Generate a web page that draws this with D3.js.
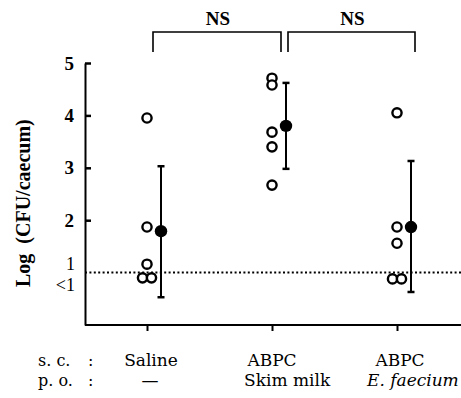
<!DOCTYPE html>
<html><head><meta charset="utf-8">
<script src="https://cdn.jsdelivr.net/npm/d3@7"></script>
<style>
body{margin:0;background:#fff;}
svg{display:block;}
</style></head>
<body>
<svg id="chart" width="461" height="398"></svg>
<script>
// ---- data ----
const groups = ["Saline", "Skim milk", "E. faecium"];
const scLabels = ["Saline", "ABPC", "ABPC"];
const poLabels = ["—", "Skim milk", "E. faecium"];
const salineValues = [3.95, 1.87, 1.16, 0.90, 0.90];
const skimMilkValues = [4.71, 4.58, 3.68, 3.40, 2.67];
const faeciumValues = [4.05, 1.87, 1.56, 0.88, 0.88];
const means = [1.79, 3.80, 1.87];
const sdUpper = [3.03, 4.62, 3.13];
const sdLower = [0.53, 2.98, 0.63];
const yTicks = [2, 3, 4, 5];
const detectionLimit = 1;
const comparisons = [["Saline", "Skim milk", "NS"], ["Skim milk", "E. faecium", "NS"]];

const allValues = [salineValues, skimMilkValues, faeciumValues];

const svg = d3.select("#chart");
const serif = "Liberation Serif, Times New Roman, serif";

const y = d3.scaleLinear().domain([0, 5]).range([325, 63]);
const x = d3.scalePoint().domain(groups).range([147, 397]);
const axisX = 85, rightEdge = 461;

// y axis
const yAxis = svg.append("g").attr("transform", `translate(${axisX},0)`)
  .call(d3.axisLeft(y).tickValues(yTicks).tickSizeInner(-6).tickSizeOuter(0).tickPadding(11).tickFormat(d3.format("d")));
yAxis.attr("font-size", null).attr("font-family", null);
yAxis.select(".domain").attr("stroke", "#000").attr("stroke-width", 2);
yAxis.selectAll(".tick line").attr("stroke", "#000").attr("stroke-width", 2.5);
yAxis.selectAll(".tick text").attr("font-family", serif).attr("font-weight", "bold")
  .style("font-size", "19px").attr("fill", "#000");

// labels "1" and "<1"
svg.append("text").attr("x", axisX - 10).attr("y", y(detectionLimit) - 3)
  .attr("text-anchor", "end").attr("font-family", serif).style("font-size", "18px").text("1");
svg.append("text").attr("x", axisX - 10).attr("y", y(detectionLimit) + 18)
  .attr("text-anchor", "end").attr("font-family", serif).style("font-size", "18px").text("<1");

// y axis title
svg.append("text")
  .attr("transform", `translate(30,${(y(0.1) + y(4.55)) / 2}) rotate(-90)`)
  .attr("text-anchor", "middle").attr("font-family", serif).attr("font-weight", "bold")
  .style("font-size", "20px").style("white-space", "pre").text("Log  (CFU/caecum)");

// x axis baseline + ticks
svg.append("line").attr("x1", axisX).attr("x2", rightEdge).attr("y1", y(0)).attr("y2", y(0))
  .attr("stroke", "#000").attr("stroke-width", 2);
const xAxis = svg.append("g").attr("transform", `translate(0,${y(0)})`)
  .call(d3.axisBottom(x).tickSize(6).tickFormat(""));
xAxis.select(".domain").remove();
xAxis.selectAll(".tick line").attr("stroke", "#000").attr("stroke-width", 2);

// dotted detection limit line
svg.append("line").attr("x1", axisX).attr("x2", rightEdge)
  .attr("y1", y(detectionLimit)).attr("y2", y(detectionLimit))
  .attr("stroke", "#000").attr("stroke-width", 2).attr("stroke-dasharray", "2,2.4");

// individual points (open circles); duplicates spread side by side
groups.forEach((g, i) => {
  const vals = allValues[i];
  const counts = {};
  vals.forEach(v => counts[v] = (counts[v] || 0) + 1);
  const seen = {};
  vals.forEach(v => {
    const n = counts[v];
    const k = seen[v] = (seen[v] === undefined ? 0 : seen[v] + 1);
    const off = n > 1 ? (k - (n - 1) / 2) * 9 : 0;
    svg.append("circle").attr("cx", x(g) + off).attr("cy", y(v)).attr("r", 4.6)
      .attr("fill", "#fff").attr("stroke", "#000").attr("stroke-width", 2.4);
  });
});

// mean ± SD
const meanOffset = 14;
groups.forEach((g, i) => {
  const cx = x(g) + meanOffset;
  svg.append("line").attr("x1", cx).attr("x2", cx).attr("y1", y(sdUpper[i])).attr("y2", y(sdLower[i]))
    .attr("stroke", "#000").attr("stroke-width", 2);
  [sdUpper[i], sdLower[i]].forEach(v => {
    svg.append("line").attr("x1", cx - 3.5).attr("x2", cx + 3.5).attr("y1", y(v)).attr("y2", y(v))
      .attr("stroke", "#000").attr("stroke-width", 2.5);
  });
  svg.append("circle").attr("cx", cx).attr("cy", y(means[i])).attr("r", 6.2).attr("fill", "#000");
});

// NS brackets
const bracketTop = 32, bracketBottom = 52;
const bracketEnds = [[6, 9], [16, 18]];
comparisons.forEach(([a, b, lab], i) => {
  const x1 = x(a) + bracketEnds[i][0], x2 = x(b) + bracketEnds[i][1];
  svg.append("path")
    .attr("d", `M${x1},${bracketBottom}V${bracketTop}H${x2}V${bracketBottom}`)
    .attr("fill", "none").attr("stroke", "#000").attr("stroke-width", 1.6);
  svg.append("text").attr("x", (x1 + x2) / 2 + 1).attr("y", 25).attr("text-anchor", "middle")
    .attr("font-family", serif).attr("font-weight", "bold").style("font-size", "19px").text(lab);
});

// bottom category labels
const labelFont = "DejaVu Serif, serif";
const row1 = 366, row2 = 386;
const fs = "17px";
svg.append("text").attr("x", 38).attr("y", row1).attr("font-family", labelFont).style("font-size", "16px").text("s. c.");
svg.append("text").attr("x", 88).attr("y", row1).attr("font-family", labelFont).style("font-size", "16px").text(":");
svg.append("text").attr("x", 38).attr("y", row2).attr("font-family", labelFont).style("font-size", "16px").text("p. o.");
svg.append("text").attr("x", 88).attr("y", row2).attr("font-family", labelFont).style("font-size", "16px").text(":");

const scOffsets = [4, 0, 3];
groups.forEach((g, i) => {
  svg.append("text").attr("x", x(g) + scOffsets[i]).attr("y", row1).attr("text-anchor", "middle")
    .attr("font-family", labelFont).style("font-size", fs).text(scLabels[i]);
});
svg.append("text").attr("x", x(groups[0]) + 3).attr("y", row2).attr("text-anchor", "middle")
  .attr("font-family", labelFont).style("font-size", fs).text(poLabels[0]);
svg.append("text").attr("x", x(groups[1]) - 28).attr("y", row2).attr("text-anchor", "start")
  .attr("font-family", labelFont).style("font-size", fs).text(poLabels[1]);
svg.append("text").attr("x", x(groups[2]) - 30).attr("y", row2).attr("text-anchor", "start")
  .attr("font-family", labelFont).style("font-size", fs).attr("font-style", "italic").text(poLabels[2]);
</script>
</body></html>
